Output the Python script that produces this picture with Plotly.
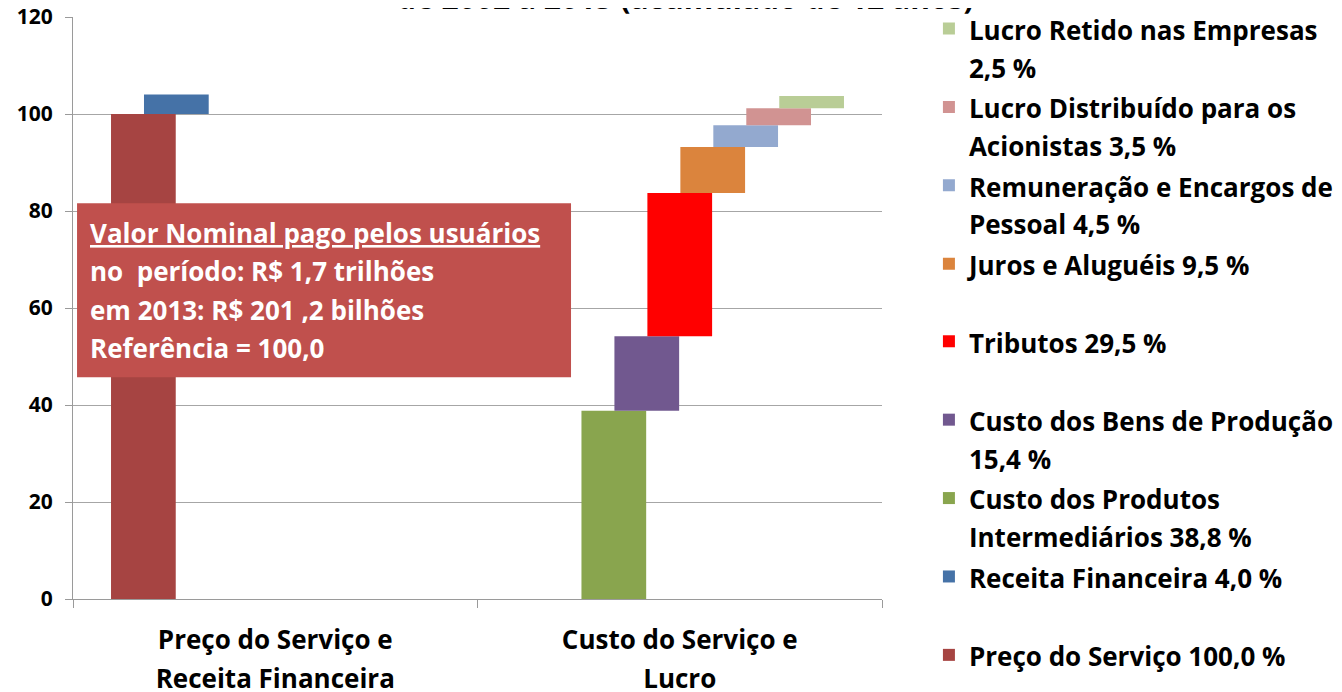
import plotly.graph_objects as go

# categories on the x axis
categories = ['Preço do Serviço e<br>Receita Financeira', 'Custo do Serviço e<br>Lucro']

# series (bottom of the stack first), % of the service price
series_names = ['Preço do Serviço', 'Receita Financeira', 'Custo dos Produtos Intermediários',
                'Custo dos Bens de Produção', 'Tributos', 'Juros e Aluguéis',
                'Remuneração e Encargos de Pessoal', 'Lucro Distribuído para os Acionistas',
                'Lucro Retido nas Empresas']
series_values = [100.0, 4.0, 38.8, 15.4, 29.5, 9.5, 4.5, 3.5, 2.5]
series_category = [0, 0, 1, 1, 1, 1, 1, 1, 1]

# legend texts as they are wrapped in the original
legend_labels = ['Preço do Serviço 100,0 %',
                 'Receita Financeira 4,0 %',
                 'Custo dos Produtos<br>Intermediários 38,8 %',
                 'Custo dos Bens de Produção<br>15,4 %',
                 'Tributos 29,5 %',
                 'Juros e Aluguéis 9,5 %',
                 'Remuneração e Encargos de<br>Pessoal 4,5 %',
                 'Lucro Distribuído para os<br>Acionistas 3,5 %',
                 'Lucro Retido nas Empresas<br>2,5 %']
# the legend is split in two boxes (upper and lower half)
legend_group = ['legend2', 'legend2', 'legend2', 'legend2', 'legend2',
                'legend', 'legend', 'legend', 'legend']

box_lines = ['<u>Valor Nominal pago pelos usuários</u>',
             'no  período: R$ 1,7 trilhões',
             'em 2013: R$ 201 ,2 bilhões',
             'Referência = 100,0']

title_text = 'de 2002 a 2013 (acumulado de 12 anos)'

colors = ['#A64442', '#4572A7', '#89A54E', '#71588F', '#FF0000',
          '#DB843D', '#93A9CF', '#D19392', '#B9CD96']

FONT = 'Open Sans'
TXT = 26


def styled(text, size):
    # small text inside a larger base font, so lines are spaced like in Excel
    return '<br>'.join('<span style="font-size:%dpx"><b>%s</b></span>' % (size, ln)
                       for ln in text.split('<br>'))


# each bar starts where the previous one of the same category ended
bases = []
running = {}
for v, c in zip(series_values, series_category):
    bases.append(running.get(c, 0.0))
    running[c] = running.get(c, 0.0) + v

bar_width = 0.16
step = 0.0815

fig = go.Figure()
for i, (name, v, c, b) in enumerate(zip(series_names, series_values, series_category, bases)):
    label = legend_labels[i]
    if '<br>' not in label and i > 0:
        label = label + '<br>\u00a0'
    fig.add_trace(go.Bar(
        x=[categories[c]], y=[v], base=[b],
        name=styled(label, TXT),
        legend=legend_group[i],
        width=bar_width,
        offset=(i - 4) * step - bar_width / 2,
        marker=dict(color=colors[i], line=dict(width=0)),
        hovertext=name,
    ))

legend_style = dict(xanchor='left', yanchor='top', traceorder='reversed', valign='top',
                    font=dict(family=FONT, size=29, color='black'),
                    bgcolor='rgba(0,0,0,0)')

fig.update_layout(
    width=1334, height=684,
    barmode='overlay',
    paper_bgcolor='white', plot_bgcolor='white',
    margin=dict(l=65, r=460, t=8.5, b=93, autoexpand=False),
    font=dict(family=FONT, color='black'),
    showlegend=True,
    legend=dict(x=1.058, y=1.0237, **legend_style),
    legend2=dict(x=1.058, y=0.4864, **legend_style),
    xaxis=dict(type='category', categoryorder='array', categoryarray=categories,
               tickvals=categories,
               ticktext=[styled(t, TXT) for t in categories],
               tickson='boundaries', ticks='outside', ticklen=8, ticklabelstandoff=13,
               tickcolor='#9A9A9A', showline=True, linecolor='#9A9A9A',
               showgrid=False, tickfont=dict(family=FONT, size=30, color='black')),
    yaxis=dict(range=[0, 120], dtick=20, ticks='outside', ticklen=7, ticklabelstandoff=8,
               ticklabeloverflow='allow',
               tickcolor='#9A9A9A', showline=True, linecolor='#9A9A9A',
               showgrid=True, gridcolor='#A6A6A6', gridwidth=1, zeroline=False,
               tickfont=dict(family=FONT, size=21, color='black', weight='bold')),
)

# red text box
fig.add_shape(type='rect', xref='paper', yref='paper',
              x0=0.005, x1=0.6156, y0=0.3811, y1=0.6798,
              fillcolor='#C0504D', line=dict(width=0), layer='above')
fig.add_annotation(xref='paper', yref='paper', x=0.0185, y=0.5305,
                   xanchor='left', yanchor='middle', align='left', showarrow=False,
                   text=styled('<br>'.join(box_lines), TXT),
                   font=dict(family=FONT, size=29.5, color='white'))

# title, mostly cut off at the top of the picture (as in the original)
fig.add_annotation(xref='paper', yref='paper', x=0.7565, y=0.9955,
                   xanchor='center', yanchor='bottom', showarrow=False,
                   text='<b>%s</b>' % title_text,
                   font=dict(family=FONT, size=30, color='black'))

fig.write_html('out.html')
